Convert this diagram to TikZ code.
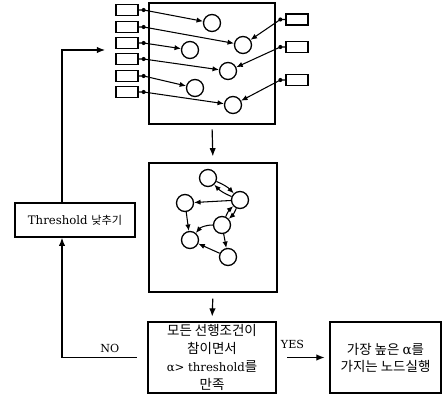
\documentclass[tikz,border=0pt]{standalone}
\usepackage{fontspec}
\setmainfont{DejaVu Serif}
\newfontfamily\kr{Noto Sans CJK KR}
\usetikzlibrary{arrows.meta,calc}

\tikzset{
  panel/.style={rectangle,draw,line width=1.3pt},
  slot/.style={rectangle,draw,line width=1.1pt,minimum width=0.66cm,
               minimum height=0.33cm,inner sep=0pt},
  task/.style={circle,draw,line width=1.1pt,minimum size=0.51cm,inner sep=0pt},
  tap/.style={circle,fill,inner sep=0pt,minimum size=3.5pt},
  link/.style={-{Latex[length=5.5pt,width=4.5pt]},line width=0.9pt},
  flow/.style={-{Latex[length=7pt,width=5.5pt]},line width=1pt},
}

\begin{document}
\begin{tikzpicture}[x=0.03cm,y=-0.03cm]
        \useasboundingbox (0,0) rectangle (443,396);
        % ready pool
        \node[panel,minimum width=3.78cm,minimum height=3.63cm] (pool) at (212,63.5) {};
        \foreach \y [count=\i] in {10,27,43,59,76,92}
          \node[slot] (l\i) at (127,\y) {};
        \foreach \y [count=\i] in {19.5,47,80}
          \node[slot] (r\i) at (297,\y) {};
        \node[task] (p1) at (212,23) {};
        \node[task] (p2) at (243,45) {};
        \node[task] (p3) at (190,50) {};
        \node[task] (p4) at (228,71) {};
        \node[task] (p5) at (195,88) {};
        \node[task] (p6) at (233,105) {};
        \foreach \i in {1,...,6}
          \draw[link] (l\i.east) -- ++(5,0) node[tap] {} -- (p\i);
        \foreach \a/\b in {1/2,2/4,3/6}
          \draw[link] (r\a.west) -- ++(-5,0) node[tap] {} -- (p\b);

        % dependency graph
        \node[panel,minimum width=3.84cm,minimum height=3.87cm] (graph) at (213,227.5) {};
        \node[task] (g1) at (208,178) {};
        \node[task] (g2) at (240,200) {};
        \node[task] (g3) at (185,203) {};
        \node[task] (g4) at (222,225) {};
        \node[task] (g5) at (190,240) {};
        \node[task] (g6) at (228,257) {};
        \draw[link] (g1) to[bend left=12] (g2);
        \draw[link] (g2) to[bend left=12] (g1);
        \draw[link] (g2) -- (g3);
        \draw[link] (g2) to[bend left=12] (g4);
        \draw[link] (g4) to[bend left=12] (g2);
        \draw[link] (g3) -- (g5);
        \draw[link] (g4) to[bend right=25] (g5);
        \draw[link] (g4) -- (g6);
        \draw[link] (g6) -- (g5);

        % decision and action
        \node[panel,minimum width=3.84cm,minimum height=2.13cm,inner sep=0pt,
              align=center,font=\kr\fontsize{11.5}{15.3}\selectfont]
              (test) at (212,357.5) {모든 선행조건이\\참이면서\\
              {\rmfamily\fontsize{10}{15.3}\selectfont α> threshold}를\\만족};
        \node[panel,minimum width=3.33cm,minimum height=2.13cm,inner sep=0pt,
              align=center,font=\kr\fontsize{11.5}{14.5}\selectfont]
              (run) at (385.5,357.5) {가장 높은 {\rmfamily α}를\\가지는 노드실행};
        \node[panel,minimum width=3.6cm,minimum height=1.02cm,inner sep=0pt,
              font=\fontsize{10}{13}\selectfont]
              (lower) at (75,220) {Threshold {\kr\fontsize{9.5}{11}\selectfont 낮추기}};

        \coordinate (nobend) at (62,357.5);
        \coordinate (upbend) at (62,50);
        \coordinate (poolin) at (105,50);

        \draw[flow,shorten <=4pt,shorten >=5pt] (pool.south) -- (graph.north);
        \draw[flow,shorten <=5pt,shorten >=4pt] (graph.south) -- (test.north);
        \draw[flow,shorten <=9pt,shorten >=4pt] (test.east) --
              node[above=4pt,pos=0.3,font=\fontsize{9.5}{11}\selectfont] {YES} (run.west);
        \draw[flow,shorten <=9pt] (test.west) --
              node[above,pos=0.44,font=\fontsize{9.5}{11}\selectfont] {NO} (nobend)
              -- (nobend |- lower.south);
        \draw[flow] (lower.north -| upbend) -- (upbend) -- (poolin);
\end{tikzpicture}
\end{document}
